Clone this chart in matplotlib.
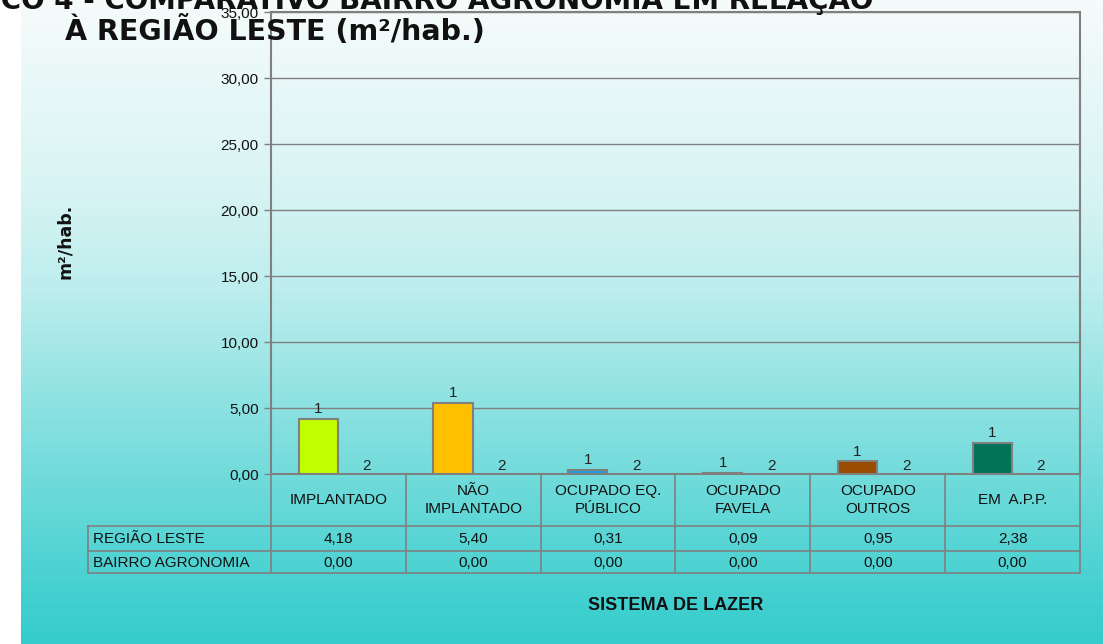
import numpy as np
import matplotlib
matplotlib.use("Agg")
import matplotlib.pyplot as plt
from matplotlib.transforms import blended_transform_factory

# ---------------- data ----------------
categories = ["IMPLANTADO", "NÃO\nIMPLANTADO", "OCUPADO EQ.\nPÚBLICO",
              "OCUPADO\nFAVELA", "OCUPADO\nOUTROS", "EM  A.P.P."]
series_names = ["REGIÃO LESTE", "BAIRRO AGRONOMIA"]
regiao_leste = [4.18, 5.40, 0.31, 0.09, 0.95, 2.38]
bairro_agronomia = [0.00, 0.00, 0.00, 0.00, 0.00, 0.00]
bar_colors = ["#C0FF00", "#FFC000", "#1E9FE0", "#FF0000", "#994C00", "#007358"]
yticks = [0, 5, 10, 15, 20, 25, 30, 35]
title_line1 = "GRÁFICO 4 - COMPARATIVO BAIRRO AGRONOMIA EM RELAÇÃO"
title_line2 = "À REGIÃO LESTE (m²/hab.)"
ylabel = "m²/hab."
xlabel = "SISTEMA DE LAZER"


def fmt(v):
    return f"{v:.2f}".replace(".", ",")


W, H = 1103, 644
fig = plt.figure(figsize=(W / 100, H / 100), dpi=100)

# ---------------- background gradient ----------------
bg = fig.add_axes([0, 0, 1, 1], zorder=-10)
ys = np.arange(H)
R = np.interp(ys, [0, 190, 290, 400, 590, 644], [246, 216, 189, 143, 69, 52])
t = (246 - R) / 194.0
G = 251 - 47 * t
B = 251 - 47 * t
img = np.zeros((H, W, 3))
img[:, :, 0] = R[:, None] / 255
img[:, :, 1] = G[:, None] / 255
img[:, :, 2] = B[:, None] / 255
img[:, :21, :] = 1.0
bg.imshow(img, aspect="auto", extent=[0, W, H, 0], interpolation="bilinear")
bg.set_xlim(0, W)
bg.set_ylim(H, 0)
bg.axis("off")

# ---------------- main axes ----------------
L, Rr, T, Bt = 271, 1080, 12, 474
ax = fig.add_axes([L / W, (H - Bt) / H, (Rr - L) / W, (Bt - T) / H])
ax.patch.set_alpha(0)
GRAY = "#808080"

n = len(categories)
x = np.arange(n)
bw = 0.29
x1 = x - 0.15
x2 = x + 0.21

ax.bar(x1, regiao_leste, width=bw, color=bar_colors, edgecolor=GRAY,
       linewidth=1.5, zorder=3)
ax.bar(x2, bairro_agronomia, width=bw, color="#FFFFFF", edgecolor=GRAY,
       linewidth=0, zorder=3)

for xi, v in zip(x1, regiao_leste):
    ax.annotate("1", (xi, v), xytext=(0, 2), textcoords="offset points",
                ha="center", va="bottom", fontsize=11,
                family="Liberation Sans", color="#222222")
for xi, v in zip(x2, bairro_agronomia):
    ax.annotate("2", (xi, v), xytext=(0, 0.5), textcoords="offset points",
                ha="center", va="bottom", fontsize=11,
                family="Liberation Sans", color="#222222")

ax.set_xlim(-0.5, n - 0.5)
ax.set_ylim(0, 35)
ax.set_yticks(yticks)
ax.set_yticklabels([fmt(v) for v in yticks], family="Liberation Sans",
                   fontsize=11, color="#111111")
ax.tick_params(axis="y", direction="out", length=5, color=GRAY, width=1, pad=4)
ax.set_xticks([])
ax.yaxis.grid(True, color=GRAY, linewidth=1, zorder=1)
ax.set_axisbelow(True)
for s in ax.spines.values():
    s.set_color(GRAY)
    s.set_linewidth(1.5)

# ---------------- data table ----------------
tr = blended_transform_factory(ax.transData, ax.transAxes)
hpx = Bt - T
def ay(ypix):
    return (Bt - ypix) / hpx

x_left = -0.5 + (88 - L) / ((Rr - L) / n)
y_hdr = ay(526)
y_r1 = ay(551)
y_r2 = ay(573)
lk = dict(color=GRAY, linewidth=1.2, transform=tr, clip_on=False)
ax.plot([x_left, n - 0.5], [y_hdr, y_hdr], **lk)
ax.plot([x_left, n - 0.5], [y_r1, y_r1], **lk)
ax.plot([x_left, n - 0.5], [y_r2, y_r2], **lk)
for b in np.arange(-0.5, n, 1.0):
    ax.plot([b, b], [0, y_r2], **lk)
ax.plot([x_left, x_left], [y_hdr, y_r2], **lk)

tk = dict(transform=tr, fontsize=11, family="Liberation Sans",
          color="#111111", clip_on=False)
for xi, c in zip(x, categories):
    ax.text(xi, ay(500), c, ha="center", va="center", linespacing=1.45, **tk)
x_lab = -0.5 + (93 - L) / ((Rr - L) / n)
ax.text(x_lab, ay(539), series_names[0], ha="left", va="center", **tk)
ax.text(x_lab, ay(563), series_names[1], ha="left", va="center", **tk)
for xi, v in zip(x, regiao_leste):
    ax.text(xi, ay(539), fmt(v), ha="center", va="center", **tk)
for xi, v in zip(x, bairro_agronomia):
    ax.text(xi, ay(563), fmt(v), ha="center", va="center", **tk)

# ---------------- titles / labels ----------------
fig.text(873 / W, 1 - 9 / H, title_line1, ha="right", va="baseline",
         fontsize=20, fontweight="bold", family="DejaVu Sans", color="#111111")
fig.text(65 / W, 1 - 40 / H, title_line2, ha="left", va="baseline",
         fontsize=20.5, fontweight="bold", family="DejaVu Sans", color="#111111")
fig.text(65 / W, 1 - 241 / H, ylabel, rotation=90, ha="center", va="center",
         fontsize=12.5, fontweight="bold", family="DejaVu Sans", color="#111111")
fig.text(676 / W, 1 - 605 / H, xlabel, ha="center", va="center",
         fontsize=13, fontweight="bold", family="Liberation Sans", color="#111111")

fig.savefig("out.png", dpi=100)
